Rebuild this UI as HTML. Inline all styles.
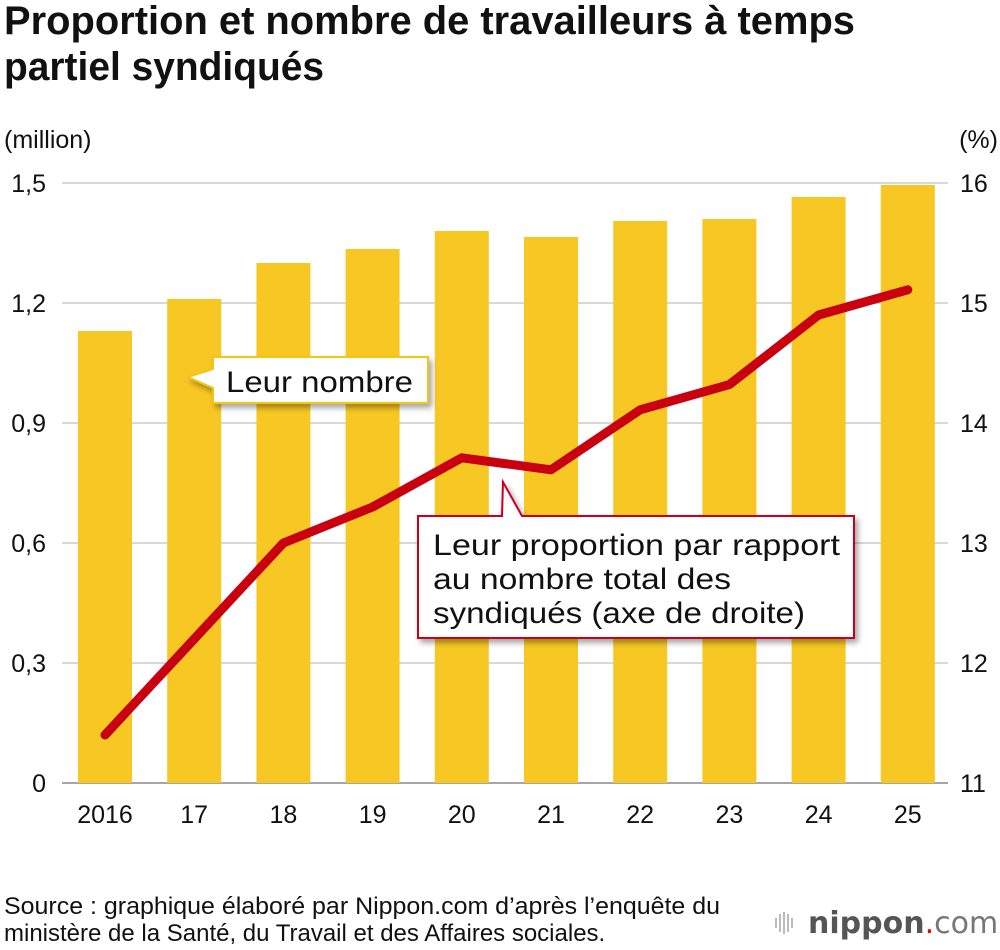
<!DOCTYPE html>
<html><head><meta charset="utf-8"><style>
body{margin:0;background:#fff;width:1000px;height:950px;overflow:hidden;font-family:"Liberation Sans",Arial,sans-serif}
svg{display:block}
</style></head><body>
<svg id="chart" width="1000" height="950" xmlns="http://www.w3.org/2000/svg" font-family="Liberation Sans, Arial, sans-serif">
<defs><filter id="sh" x="-10%" y="-10%" width="130%" height="140%"><feDropShadow dx="3" dy="4" stdDeviation="3" flood-color="#000" flood-opacity="0.35"/></filter></defs>
<text x="4" y="34" font-size="40" font-weight="bold" fill="#111" textLength="851" lengthAdjust="spacingAndGlyphs">Proportion et nombre de travailleurs à temps</text>
<text x="4" y="80" font-size="40" font-weight="bold" fill="#111" textLength="320" lengthAdjust="spacingAndGlyphs">partiel syndiqués</text>
<text x="4" y="148" font-size="25" fill="#111">(million)</text>
<text x="998" y="148" font-size="25" fill="#111" text-anchor="end">(%)</text>
<g id="grid"></g><g id="bars"></g><g id="xlabels"></g><g id="line"></g>
<g filter="url(#sh)">
<path d="M213,357 H428 V403 H213 V388 L188,377 L213,369 Z" fill="#fff" stroke="#f5c518" stroke-width="2"/>
</g>
<text x="226" y="392" font-size="30" fill="#111" textLength="187" lengthAdjust="spacingAndGlyphs">Leur nombre</text>
<g filter="url(#sh)">
<path d="M418,516 H502 L503,482 L522,516 H854 V638 H418 Z" fill="#fff" stroke="#c8001e" stroke-width="2"/>
</g>
<text font-size="30" fill="#111"><tspan x="433" y="555" textLength="407" lengthAdjust="spacingAndGlyphs">Leur proportion par rapport</tspan><tspan x="433" y="589" textLength="298" lengthAdjust="spacingAndGlyphs">au nombre total des</tspan><tspan x="433" y="623" textLength="372" lengthAdjust="spacingAndGlyphs">syndiqués (axe de droite)</tspan></text>
<text font-size="24" fill="#111"><tspan x="4" y="914" textLength="716" lengthAdjust="spacingAndGlyphs">Source : graphique élaboré par Nippon.com d’après l’enquête du</tspan><tspan x="4" y="941">ministère de la Santé, du Travail et des Affaires sociales.</tspan></text>
<g>
<g fill="#bbb"><rect x="775" y="918" width="2" height="10"/><rect x="779" y="914" width="2" height="18"/><rect x="783" y="912" width="2" height="22"/><rect x="787" y="914" width="2" height="18"/><rect x="791" y="918" width="2" height="10"/></g>
<text x="808" y="933" font-size="30" fill="#555" font-family="DejaVu Sans, sans-serif"><tspan font-weight="bold">nippon</tspan><tspan fill="#e00">.</tspan><tspan fill="#777">com</tspan></text>
</g>
</svg>
<script>
const categories=["2016","17","18","19","20","21","22","23","24","25"];
const members=[1.13,1.21,1.30,1.335,1.38,1.365,1.405,1.41,1.465,1.495];
const proportion=[11.4,12.2,13.0,13.3,13.71,13.61,14.11,14.32,14.9,15.11];
const leftTicks=["0","0,3","0,6","0,9","1,2","1,5"];
const leftTickVals=[0,0.3,0.6,0.9,1.2,1.5];
const rightTickVals=[11,12,13,14,15,16];
const NS="http://www.w3.org/2000/svg";
const y0=783,y1=183;
const yL=v=>y0-(v/1.5)*(y0-y1);
const yR=v=>y0-((v-11)/5)*(y0-y1);
const xC=i=>105+i*89.2;
function mk(t,a,p){const e=document.createElementNS(NS,t);for(const k in a)e.setAttribute(k,a[k]);p.appendChild(e);return e;}
const grid=document.getElementById('grid');
leftTickVals.forEach((v,i)=>{
 const l=mk('line',{x1:62,x2:948,y1:yL(v),y2:yL(v),stroke:i==0?'#888':'#ccc','stroke-width':1.5},grid);
 
 
 const t=mk('text',{x:46,y:yL(v)+9,'font-size':25,'text-anchor':'end',fill:'#111'},grid);t.textContent=leftTicks[i];
 
 
});
rightTickVals.forEach(v=>{
 const t=mk('text',{x:960,y:yR(v)+9,'font-size':25,fill:'#111'},grid);t.textContent=v;
 
 
});
const bars=document.getElementById('bars'),xl=document.getElementById('xlabels');
categories.forEach((c,i)=>{
 const r=mk('rect',{x:xC(i)-27,y:yL(members[i]),width:54,height:y0-yL(members[i]),fill:'#f7c824'},bars);
 
 
 const t=mk('text',{x:xC(i),y:823,'font-size':25,'text-anchor':'middle',fill:'#111'},xl);t.textContent=c;
 
 
});
const pl=mk('polyline',{points:proportion.map((v,i)=>xC(i)+','+yR(v)).join(' '),fill:'none',stroke:'#c8000f','stroke-width':9,'stroke-linejoin':'round','stroke-linecap':'round'},document.getElementById('line'));


</script>
</body></html>
